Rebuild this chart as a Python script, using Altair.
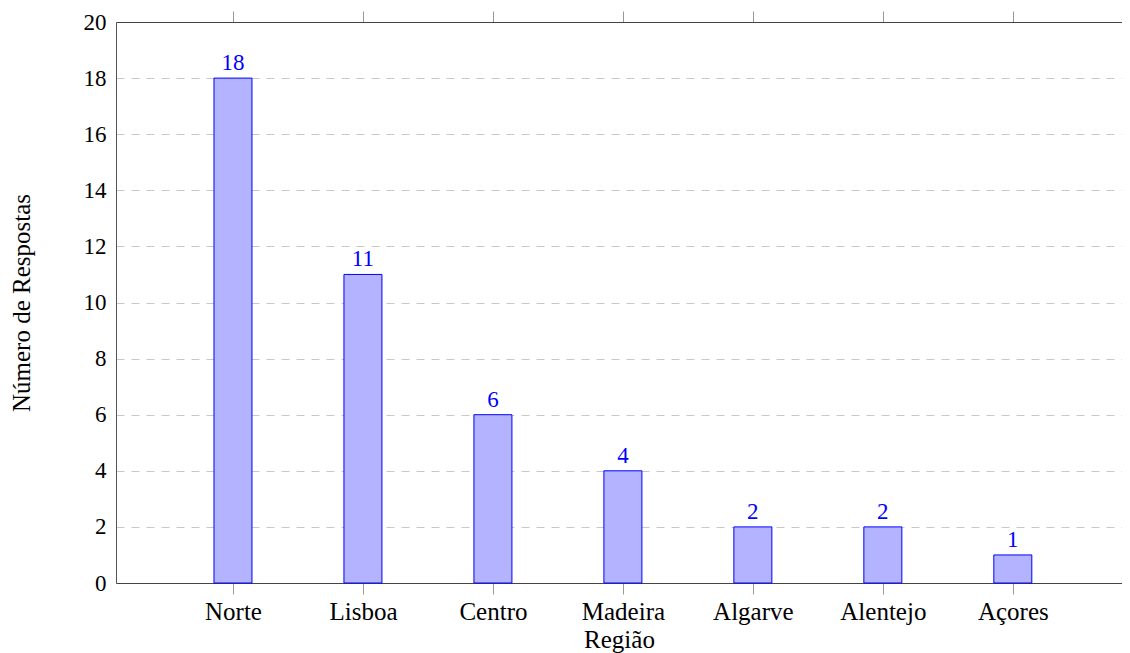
import json
import altair as alt
import pandas as pd

regions = ["Norte", "Lisboa", "Centro", "Madeira", "Algarve", "Alentejo", "Açores"]
counts = [18, 11, 6, 4, 2, 2, 1]
positions = list(range(len(regions)))
y_ticks = list(range(0, 21, 2))

df = pd.DataFrame({"pos": positions, "regiao": regions, "n": counts})

FONT = "'Liberation Serif', 'DejaVu Serif', serif"
FS = 23      # digits
FS_TXT = 25  # words
label_expr = json.dumps(regions) + "[datum.value]"

xscale = alt.Scale(domain=[-0.9, 6.84], nice=False, zero=False, padding=0)
yscale = alt.Scale(domain=[0, 20], nice=False)

bars = alt.Chart(df).mark_bar(
    size=38, fill="#b3b3ff", stroke="#0000ff", strokeWidth=1
).encode(
    x=alt.X("pos:Q", scale=xscale,
            axis=alt.Axis(orient="bottom", values=positions, labelExpr=label_expr,
                          title="Região", grid=False, tickSize=11, tickColor="#999999",
                          domainColor="#444444", labelPadding=5, titlePadding=3,
                          labelFontSize=FS_TXT, titleFontSize=FS_TXT, labelFont=FONT,
                          titleFont=FONT, titleFontWeight="normal", labelColor="#000",
                          titleColor="#000")),
    y=alt.Y("n:Q", scale=yscale,
            axis=alt.Axis(values=y_ticks, grid=True, gridDash=[8, 7], gridColor="#c8c8c8",
                          ticks=False, domainColor="#555555", labelPadding=10,
                          title="Número de Respostas", titlePadding=49,
                          labelFontSize=FS, titleFontSize=FS_TXT, labelFont=FONT,
                          titleFont=FONT, titleFontWeight="normal", labelColor="#000",
                          titleColor="#000")),
)

labels = alt.Chart(df).mark_text(
    color="#0000ff", font=FONT, fontSize=FS, baseline="alphabetic", dy=-8
).encode(
    x=alt.X("pos:Q", scale=xscale,
            axis=alt.Axis(orient="top", values=positions, labels=False, title=None,
                          grid=False, tickSize=11, tickColor="#999999",
                          domainColor="#444444")),
    y=alt.Y("n:Q", scale=yscale),
    text=alt.Text("n:Q"),
)

chart = alt.layer(bars, labels).resolve_axis(x="independent").properties(
    width=1006, height=561,
    autosize=alt.AutoSizeParams(type="none"),
    padding={"left": 108, "top": 14, "right": 0, "bottom": 70},
).configure_view(stroke=None).configure(font=FONT)

chart.save("out.html", embed_options={"renderer": "svg", "actions": False})
